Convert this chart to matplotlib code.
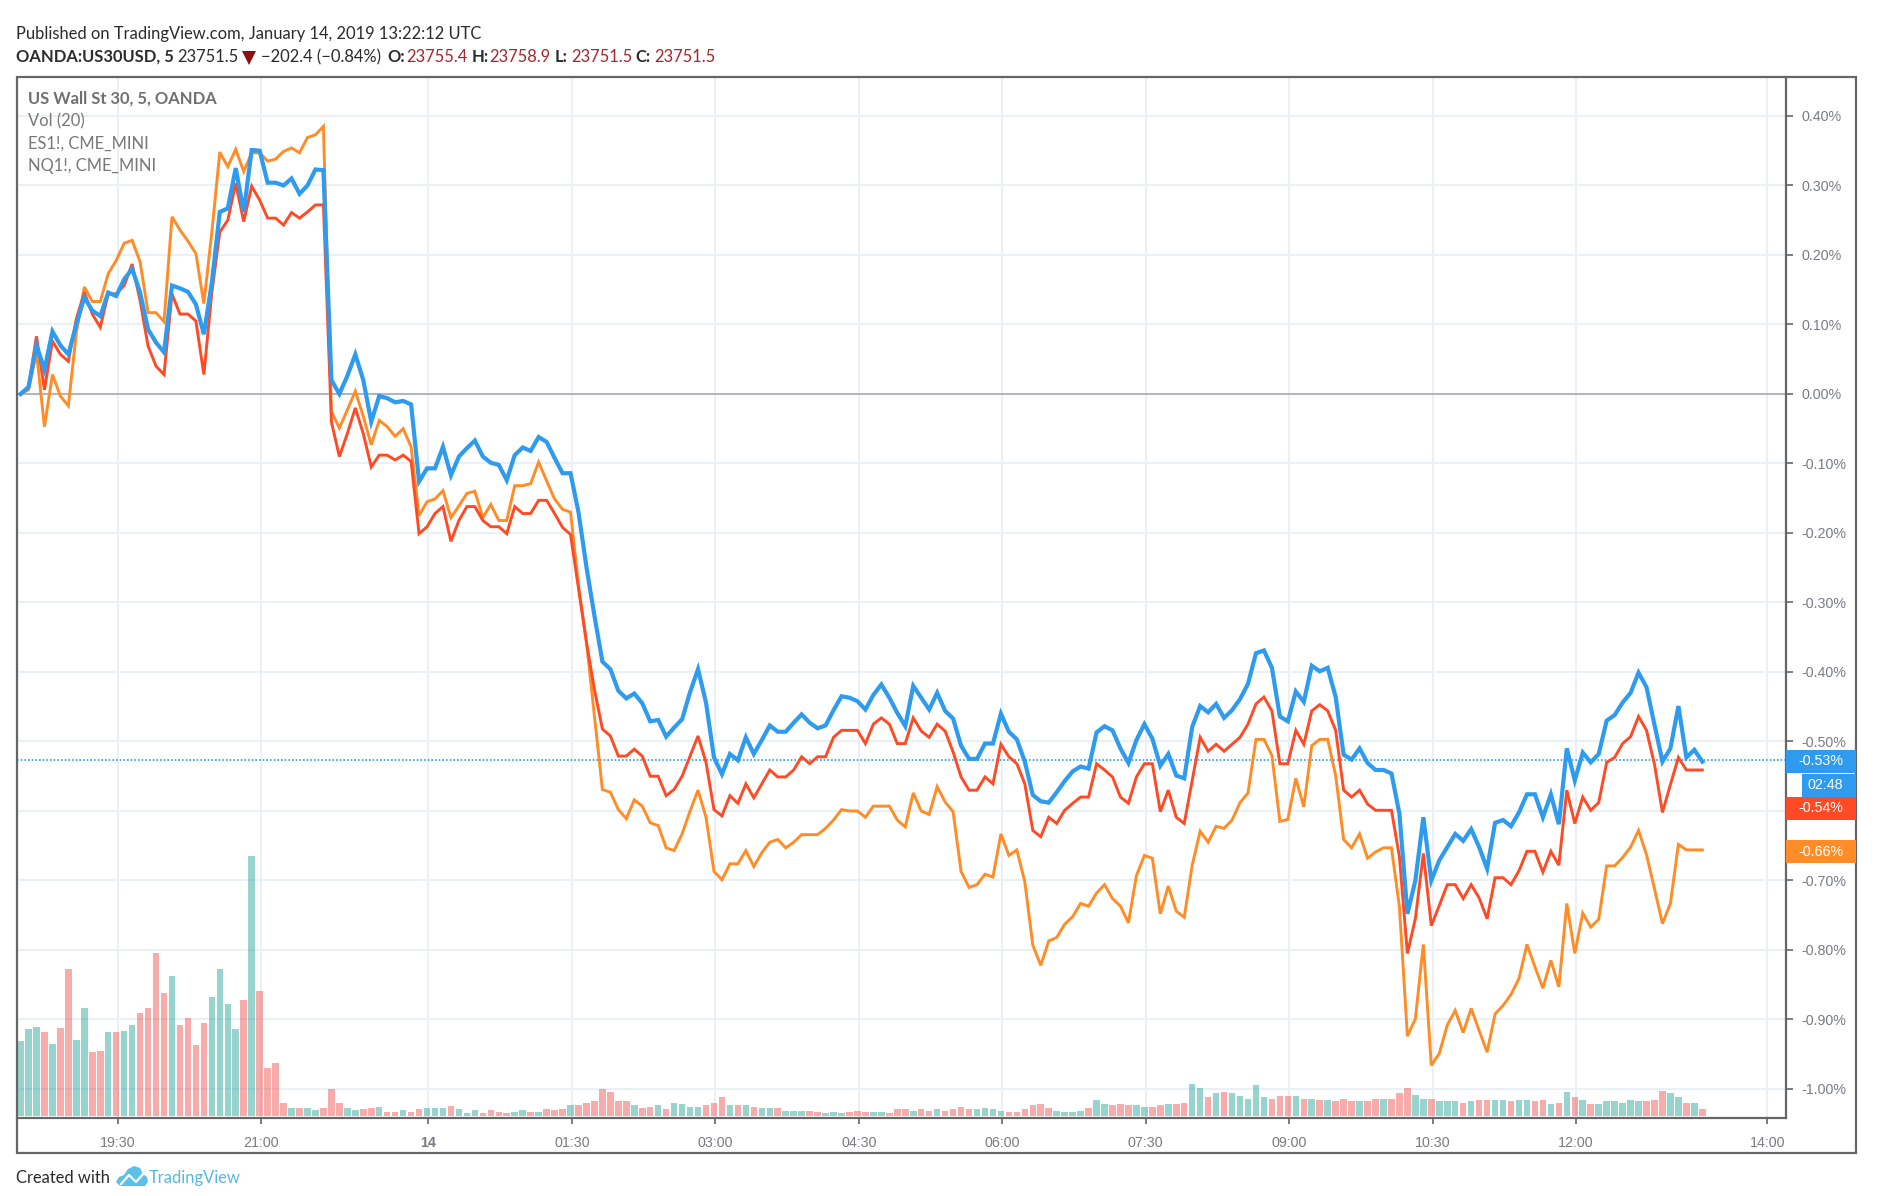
import numpy as np
import matplotlib
matplotlib.use("Agg")
import matplotlib.pyplot as plt
from matplotlib.patches import Rectangle, Polygon
from matplotlib.lines import Line2D

# ---------- data ----------
dow = [0,.01,.07,.035,.09,.07,.057,.10,.139,.12,
 .112,.146,.141,.165,.18,.146,.093,.074,.06,.156,
 .152,.147,.129,.086,.16,.262,.267,.325,.262,.351,
 .35,.304,.304,.30,.31,.288,.30,.323,.322,.02,
 0,.026,.057,.02,-.04,-.003,-.006,-.012,-.01,-.015,
 -.126,-.107,-.107,-.076,-.117,-.09,-.078,-.067,-.09,-.099,
 -.102,-.124,-.088,-.077,-.082,-.062,-.069,-.092,-.114,-.114,
 -.17,-.249,-.319,-.385,-.396,-.427,-.438,-.431,-.445,-.471,
 -.469,-.493,-.48,-.468,-.429,-.396,-.444,-.523,-.547,-.518,
 -.527,-.494,-.518,-.498,-.477,-.486,-.486,-.473,-.461,-.473,
 -.481,-.477,-.455,-.435,-.437,-.442,-.454,-.433,-.418,-.437,
 -.459,-.478,-.42,-.437,-.454,-.43,-.456,-.467,-.506,-.525,
 -.525,-.503,-.503,-.46,-.486,-.497,-.529,-.577,-.586,-.588,
 -.573,-.557,-.543,-.536,-.539,-.487,-.478,-.484,-.51,-.531,
 -.498,-.475,-.496,-.535,-.518,-.549,-.553,-.479,-.449,-.458,
 -.446,-.466,-.455,-.439,-.417,-.373,-.369,-.394,-.464,-.471,
 -.428,-.443,-.391,-.399,-.394,-.436,-.519,-.526,-.51,-.531,
 -.541,-.541,-.546,-.604,-.748,-.70,-.609,-.70,-.671,-.652,
 -.633,-.643,-.626,-.652,-.683,-.617,-.613,-.622,-.602,-.576,
 -.576,-.609,-.576,-.619,-.51,-.556,-.516,-.53,-.518,-.47,
 -.462,-.444,-.43,-.401,-.422,-.476,-.529,-.51,-.449,-.523,
 -.512,-.529]

es1 = [0,.01,.083,.006,.076,.057,.047,.108,.146,.115,
 .096,.144,.144,.156,.187,.134,.069,.04,.028,.144,
 .115,.115,.105,.028,.146,.233,.25,.303,.248,.299,
 .279,.253,.253,.243,.261,.253,.262,.272,.272,-.04,
 -.09,-.057,-.02,-.057,-.105,-.088,-.088,-.095,-.088,-.097,
 -.201,-.191,-.172,-.162,-.212,-.182,-.162,-.162,-.182,-.191,
 -.191,-.201,-.162,-.172,-.172,-.153,-.153,-.172,-.192,-.202,
 -.28,-.357,-.425,-.482,-.492,-.521,-.521,-.511,-.521,-.55,
 -.55,-.578,-.569,-.55,-.521,-.492,-.53,-.598,-.607,-.578,
 -.589,-.561,-.581,-.561,-.541,-.551,-.551,-.541,-.522,-.532,
 -.522,-.522,-.494,-.484,-.484,-.484,-.503,-.475,-.466,-.475,
 -.503,-.503,-.466,-.485,-.494,-.475,-.485,-.515,-.551,-.57,
 -.57,-.551,-.561,-.504,-.522,-.532,-.561,-.628,-.637,-.609,
 -.618,-.599,-.589,-.58,-.58,-.532,-.541,-.551,-.58,-.589,
 -.551,-.532,-.532,-.601,-.57,-.609,-.618,-.556,-.494,-.514,
 -.504,-.514,-.504,-.494,-.475,-.446,-.436,-.456,-.532,-.532,
 -.484,-.504,-.456,-.447,-.456,-.484,-.57,-.58,-.57,-.59,
 -.599,-.599,-.599,-.666,-.805,-.755,-.661,-.765,-.736,-.706,
 -.706,-.726,-.706,-.725,-.755,-.696,-.696,-.706,-.686,-.658,
 -.658,-.688,-.658,-.678,-.57,-.618,-.58,-.599,-.588,-.53,
 -.523,-.503,-.493,-.464,-.484,-.533,-.602,-.562,-.523,-.541,
 -.541,-.541]

nq1 = [0,.006,.06,-.047,.028,-.003,-.017,.088,.154,.133,
 .133,.173,.192,.217,.221,.19,.117,.117,.104,.255,
 .236,.22,.202,.13,.233,.348,.327,.352,.32,.347,
 .347,.335,.338,.349,.354,.347,.369,.373,.385,-.025,
 -.049,-.023,.004,-.032,-.073,-.038,-.047,-.061,-.05,-.076,
 -.175,-.155,-.151,-.139,-.178,-.161,-.143,-.14,-.178,-.159,
 -.182,-.182,-.132,-.132,-.129,-.098,-.125,-.151,-.166,-.17,
 -.275,-.357,-.463,-.569,-.573,-.598,-.611,-.584,-.593,-.617,
 -.621,-.653,-.657,-.633,-.60,-.57,-.609,-.687,-.699,-.676,
 -.676,-.657,-.68,-.66,-.645,-.641,-.653,-.645,-.634,-.634,
 -.634,-.625,-.613,-.598,-.60,-.60,-.609,-.593,-.593,-.593,
 -.613,-.623,-.574,-.60,-.605,-.565,-.587,-.601,-.687,-.71,
 -.706,-.691,-.695,-.633,-.664,-.656,-.702,-.793,-.822,-.787,
 -.782,-.763,-.752,-.733,-.737,-.718,-.706,-.726,-.737,-.761,
 -.693,-.664,-.668,-.748,-.708,-.744,-.753,-.678,-.629,-.645,
 -.622,-.625,-.613,-.588,-.574,-.497,-.497,-.52,-.615,-.612,
 -.553,-.594,-.506,-.497,-.497,-.549,-.641,-.653,-.633,-.668,
 -.659,-.653,-.653,-.738,-.924,-.899,-.792,-.966,-.949,-.908,
 -.887,-.919,-.884,-.916,-.947,-.892,-.88,-.864,-.841,-.792,
 -.824,-.855,-.815,-.853,-.733,-.805,-.747,-.767,-.756,-.679,
 -.679,-.667,-.652,-.628,-.663,-.712,-.762,-.733,-.648,-.656,
 -.656,-.656]

volume = [225,260,268,252,216,264,439,228,323,192,
 196,252,252,256,272,308,323,487,368,419,
 272,295,212,280,355,439,335,260,348,778,
 375,145,160,40,25,25,25,17,25,80,
 40,25,17,21,25,28,13,13,17,13,
 21,25,25,25,29,21,9,17,9,17,
 13,9,13,17,13,13,21,17,20,32,
 32,40,44,81,72,44,44,32,24,28,
 32,20,40,36,28,28,32,40,56,32,
 32,32,28,24,24,24,16,16,16,16,
 12,8,12,8,12,16,12,12,12,8,
 20,20,16,20,16,20,16,20,28,20,
 20,24,20,16,12,12,20,32,36,24,
 16,12,12,16,24,48,36,32,36,32,
 32,28,28,32,36,36,40,95,84,56,
 68,72,68,60,52,92,56,52,60,60,
 60,52,52,48,48,44,52,44,44,44,
 52,52,52,68,84,64,52,52,44,44,
 44,40,44,48,48,48,48,44,48,48,
 44,48,36,40,72,56,48,36,36,44,
 44,40,48,44,44,48,76,68,56,40,
 40,20]

vol_dir = ("gggpgppggp" "pgpggppppg" "ppppggggpg" "ppppgpggpp" "pggppgppgp"
           "pgggpgggpp" "ppggpgpppg" "pppppppgpp" "gpggggpppg" "pgpggpgggp"
           "pgggpppggp" "ppgppgpppp" "ggggpppppp" "ggggpggppp" "ggppgppggp"
           "gpgggggppp" "gpgpgpppgp" "pgpppggpgg" "gpgppggpgg" "ppgpgpgpgg"
           "ggggpppggp" "gp")

time_ticks = [12, 30, 51, 69, 87, 105, 123, 141, 159, 177, 195, 219]
time_labels = ["19:30", "21:00", "14", "01:30", "03:00", "04:30", "06:00",
               "07:30", "09:00", "10:30", "12:00", "14:00"]
pct_ticks = [.40, .30, .20, .10, 0, -.10, -.20, -.30, -.40, -.50, -.60, -.70, -.80, -.90, -1.00]
pct_hidden = [-.60]  # this label sits under the red price tag in the reference
last_vals = [-.527, -.541, -.656]

# ---------- layout helpers (pixels, origin top-left) ----------
W, H = 1878, 1196
FONT = ["Lato", "DejaVu Sans"]
AXF = ["Liberation Sans", "DejaVu Sans"]
GRAY = "#787b86"
FS = 11.9
fig = plt.figure(figsize=(W / 100, H / 100), dpi=100, facecolor="white")


def fx(p):
    return p / W


def fy(p):
    return 1 - p / H


def txt(x, y, s, **kw):
    kw.setdefault("family", FONT)
    kw.setdefault("va", "center")
    kw.setdefault("ha", "left")
    return fig.text(fx(x), fy(y), s, **kw)


L, R, T, B = 16.8, 1786.0, 76.7, 1117.7
FR, FB = 1855.7, 1152.5
ax = fig.add_axes([fx(L), fy(B), fx(R) - fx(L), fy(T) - fy(B)])
ax.set_ylim(-1.0413, 0.4565)
ax.set_xlim(-0.47, 221.5)
ax.set_facecolor("white")
ax.grid(True, axis="y", color="#e9f0f6", lw=1.5)
ax.grid(True, axis="x", color="#e6eef5", lw=1.2)
ax.set_axisbelow(True)

x = np.arange(len(dow))
ax.axhline(0, color="#a9a9b3", lw=1.2, zorder=1.5)
ax.plot(x, nq1, color="#ff8c26", lw=2.1, solid_joinstyle="miter", zorder=3)
ax.plot(x, es1, color="#ff4a26", lw=2.1, solid_joinstyle="miter", zorder=3.1)
ax.plot(x, dow, color="#2e9bee", lw=3.0, solid_joinstyle="miter", zorder=3.2)
ax.axhline(last_vals[0], color="#2e9bee", lw=1.2, ls=(0, (1, 1.2)), zorder=2.5)

ax.set_xticks(np.array(time_ticks) + 0.17)
ax.set_xticklabels(time_labels, color=GRAY, fontsize=10.3, family=AXF)
for lab in ax.get_xticklabels():
    if lab.get_text() == "14":
        lab.set_fontweight("bold")
ax.tick_params(axis="x", length=4, width=1.2, color="#666666", pad=9)
ax.yaxis.tick_right()
ax.set_yticks(pct_ticks)
ax.set_yticklabels(["" if v in pct_hidden else f"{v:.2f}%" for v in pct_ticks],
                   color=GRAY, fontsize=10.3, family=AXF)
ax.tick_params(axis="y", length=5, width=1.2, color="#666666", pad=6)
for side in ("top", "left"):
    ax.spines[side].set_visible(False)
for side in ("right", "bottom"):
    ax.spines[side].set_color("#666666")
    ax.spines[side].set_linewidth(1.6)

# volume on top of the grid, translucent
axv = fig.add_axes(ax.get_position(), sharex=ax, frameon=False)
axv.set_ylim(-5, 3112)
axv.patch.set_visible(False)
axv.set_yticks([])
axv.tick_params(axis="x", bottom=False, labelbottom=False)
axv.bar(x, volume, width=0.82, color=["#26a69a" if d == "g" else "#ef5350" for d in vol_dir],
        alpha=0.48, linewidth=0)

# outer frame
fig.add_artist(Rectangle((fx(L), fy(FB)), fx(FR) - fx(L), fy(T) - fy(FB), transform=fig.transFigure,
                         fill=False, ec="#666666", lw=1.6))


# price labels
def tag(y0, y1, color, s, x0=R, tx=1798):
    fig.add_artist(Rectangle((fx(x0), fy(y1)), fx(FR) - fx(x0), fy(y0) - fy(y1), transform=fig.transFigure,
                             fc=color, ec="none", zorder=5))
    txt(tx, (y0 + y1) / 2, s, color="white", fontsize=10.3, family=AXF, zorder=6)


tag(750, 772.5, "#2e9bee", f"{last_vals[0]:.2f}%")
tag(773.5, 796.5, "#2e9bee", "02:48", x0=1802, tx=1807)
tag(797, 820, "#ff4a26", f"{last_vals[1]:.2f}%")
tag(840, 863, "#ff8c26", f"{last_vals[2]:.2f}%")

# header
DARK = "#2b2b2b"
RED = "#a8252b"
txt(16.5, 34.5, "Published on TradingView.com, January 14, 2019 13:22:12 UTC", color=DARK, fontsize=FS)
y2 = 57
txt(16.5, y2, "OANDA:US30USD, 5", color=DARK, fontsize=FS, fontweight="bold")
txt(177, y2, "23751.5", color=DARK, fontsize=FS)
fig.add_artist(Polygon([[fx(242), fy(y2 - 6)], [fx(256), fy(y2 - 6)], [fx(249), fy(y2 + 8)]],
                       transform=fig.transFigure, fc="#8b0f14", ec="none"))
txt(261, y2, "\u2212202.4 (\u22120.84%)", color=DARK, fontsize=FS)
for xl, lab, xv, val in [(387, "O:", 406, "23755.4"), (472, "H:", 489, "23758.9"),
                         (555, "L:", 571, "23751.5"), (635, "C:", 654, "23751.5")]:
    txt(xl, y2, lab, color=DARK, fontsize=FS, fontweight="bold")
    txt(xv, y2, val, color=RED, fontsize=FS)

# legend
LG = "#787878"
txt(28, 98.5, "US Wall St 30, 5, OANDA", color="#6f6f6f", fontsize=FS, fontweight="bold")
txt(28, 121.5, "Vol (20)", color=LG, fontsize=FS)
txt(28, 144, "ES1!, CME_MINI", color=LG, fontsize=FS)
txt(28, 166.5, "NQ1!, CME_MINI", color=LG, fontsize=FS)

# footer
txt(16.5, 1178, "Created with", color=DARK, fontsize=FS)
cloud = [(116, 1182), (119, 1177), (124, 1175), (128, 1169), (134, 1166), (140, 1168), (143, 1174),
         (147, 1177), (148, 1182), (145, 1186), (120, 1186)]
fig.add_artist(Polygon([[fx(a), fy(b)] for a, b in cloud], transform=fig.transFigure, fc="#5cc0e8", ec="none"))
zig = [(121, 1184), (129, 1175), (136, 1182), (144, 1173)]
fig.add_artist(Line2D([fx(a) for a, b in zig], [fy(b) for a, b in zig], transform=fig.transFigure,
                      color="white", lw=1.6))
txt(149, 1178, "TradingView", color="#55b8e4", fontsize=FS)

fig.savefig("out.png", dpi=100)
assert len(dow) == len(es1) == len(nq1) == len(volume) == len(vol_dir)
